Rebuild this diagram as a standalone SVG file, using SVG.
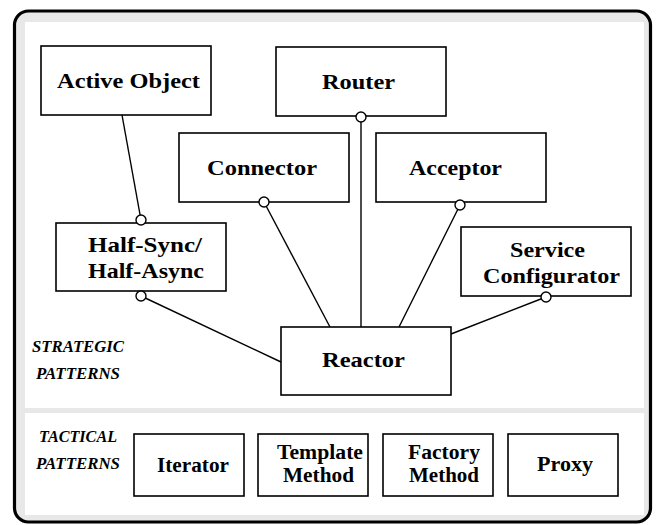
<svg xmlns="http://www.w3.org/2000/svg" width="657" height="525" viewBox="0 0 657 525">
<style>
.box{fill:#fff;stroke:#000;stroke-width:1.6}
.t{font-family:"Liberation Serif","Times New Roman",serif;font-weight:bold;font-size:22px;fill:#000}
.tt{font-family:"Liberation Serif","Times New Roman",serif;font-weight:bold;font-size:20px;fill:#000}
.lab{font-family:"Liberation Serif","Times New Roman",serif;font-weight:bold;font-style:italic;font-size:16px;fill:#000}
.ln{stroke:#000;stroke-width:1.4;fill:none}
.dot{fill:#fff;stroke:#000;stroke-width:1.4}
</style>
<rect x="14.5" y="11" width="636" height="511" rx="14" fill="#e8e8e8" stroke="#000" stroke-width="3.2"/>
<rect x="25" y="22" width="619" height="386" fill="#fff"/>
<rect x="25" y="413" width="619" height="102" fill="#fff"/>
<text class="lab" x="78" y="352" text-anchor="middle" textLength="92" lengthAdjust="spacingAndGlyphs">STRATEGIC</text>
<text class="lab" x="78" y="379" text-anchor="middle" textLength="84" lengthAdjust="spacingAndGlyphs">PATTERNS</text>
<text class="lab" x="78" y="442" text-anchor="middle" textLength="78" lengthAdjust="spacingAndGlyphs">TACTICAL</text>
<text class="lab" x="78" y="469" text-anchor="middle" textLength="84" lengthAdjust="spacingAndGlyphs">PATTERNS</text>
<g id="connectors">
<line class="ln" x1="122" y1="115" x2="141" y2="220"/>
<line class="ln" x1="141" y1="296" x2="281" y2="362"/>
<line class="ln" x1="264" y1="202" x2="330" y2="327"/>
<line class="ln" x1="361" y1="117" x2="361" y2="327"/>
<line class="ln" x1="460" y1="205" x2="399" y2="327"/>
<line class="ln" x1="546" y1="297" x2="451" y2="334"/>
</g>
<g id="active-object"><rect class="box" x="41" y="46" width="170" height="69"/><text class="t" x="128.5" y="88" text-anchor="middle" textLength="143" lengthAdjust="spacingAndGlyphs">Active Object</text></g>
<g id="router"><rect class="box" x="276" y="47" width="170" height="69"/><text class="t" x="358.5" y="89" text-anchor="middle" textLength="73" lengthAdjust="spacingAndGlyphs">Router</text></g>
<g id="connector"><rect class="box" x="179" y="133" width="170" height="69"/><text class="t" x="262" y="175" text-anchor="middle" textLength="110" lengthAdjust="spacingAndGlyphs">Connector</text></g>
<g id="acceptor"><rect class="box" x="376" y="133" width="170" height="69"/><text class="t" x="455.5" y="175" text-anchor="middle" textLength="93" lengthAdjust="spacingAndGlyphs">Acceptor</text></g>
<g id="half-sync"><rect class="box" x="56" y="223" width="170" height="68"/><text class="t" x="145" y="252" text-anchor="middle" textLength="114" lengthAdjust="spacingAndGlyphs">Half-Sync/</text><text class="t" x="146" y="278" text-anchor="middle" textLength="116" lengthAdjust="spacingAndGlyphs">Half-Async</text></g>
<g id="service-configurator"><rect class="box" x="461" y="227" width="170" height="69"/><text class="t" x="547.5" y="257" text-anchor="middle" textLength="75" lengthAdjust="spacingAndGlyphs">Service</text><text class="t" x="551.5" y="283" text-anchor="middle" textLength="137" lengthAdjust="spacingAndGlyphs">Configurator</text></g>
<g id="reactor"><rect class="box" x="281" y="327" width="170" height="68"/><text class="t" x="363.5" y="367" text-anchor="middle" textLength="83" lengthAdjust="spacingAndGlyphs">Reactor</text></g>
<g id="dots">
<circle class="dot" cx="141" cy="220" r="5"/>
<circle class="dot" cx="141" cy="296" r="5"/>
<circle class="dot" cx="264" cy="202" r="5"/>
<circle class="dot" cx="361" cy="117" r="5"/>
<circle class="dot" cx="460" cy="205" r="5"/>
<circle class="dot" cx="546" cy="297" r="5"/>
</g>
<g id="iterator"><rect class="box" x="134" y="434" width="110" height="62"/><text class="tt" x="193" y="472" text-anchor="middle" textLength="72" lengthAdjust="spacingAndGlyphs">Iterator</text></g>
<g id="template-method"><rect class="box" x="258" y="434" width="110" height="62"/><text class="tt" x="320" y="459" text-anchor="middle" textLength="86" lengthAdjust="spacingAndGlyphs">Template</text><text class="tt" x="318.5" y="482" text-anchor="middle" textLength="71" lengthAdjust="spacingAndGlyphs">Method</text></g>
<g id="factory-method"><rect class="box" x="383" y="434" width="110" height="62"/><text class="tt" x="444" y="459" text-anchor="middle" textLength="72" lengthAdjust="spacingAndGlyphs">Factory</text><text class="tt" x="444" y="482" text-anchor="middle" textLength="70" lengthAdjust="spacingAndGlyphs">Method</text></g>
<g id="proxy"><rect class="box" x="508" y="434" width="110" height="62"/><text class="tt" x="565" y="471" text-anchor="middle" textLength="56" lengthAdjust="spacingAndGlyphs">Proxy</text></g>
</svg>
